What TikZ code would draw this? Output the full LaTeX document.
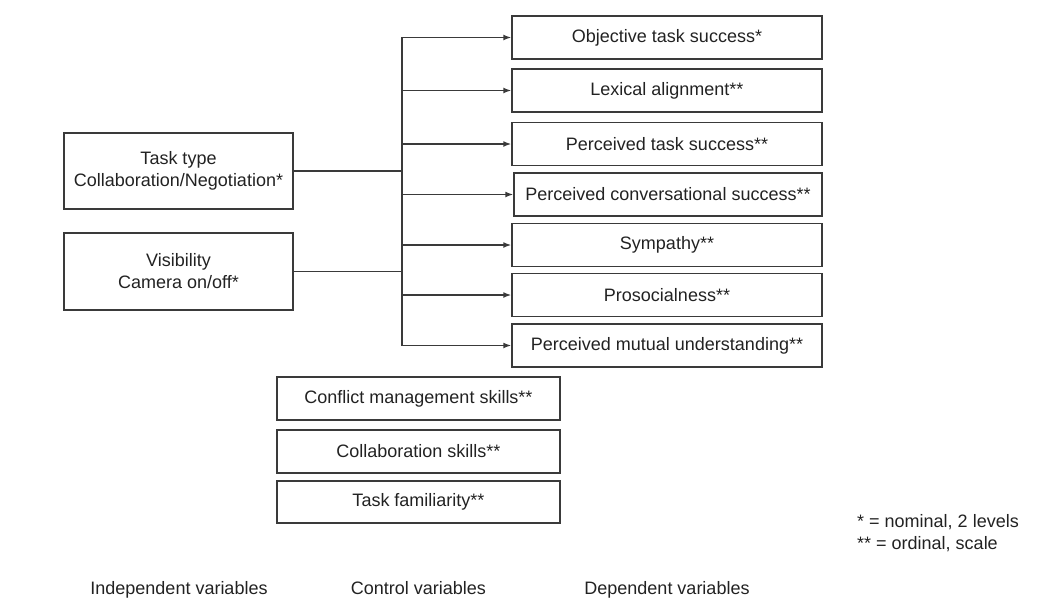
\documentclass[tikz,border=0pt]{standalone}
\usepackage{fontspec}
\setmainfont{Liberation Sans}
\usetikzlibrary{arrows.meta}
\definecolor{txt}{HTML}{222222}
\definecolor{ln}{HTML}{3A3A3A}
\begin{document}
\begin{tikzpicture}[x=1pt,y=-1pt,
  every node/.style={text=txt,font=\fontsize{18}{22}\selectfont},
  box/.style={draw=ln,line width=1.5pt,rectangle,inner sep=0pt,align=center},
  indep/.style={box,minimum width=229pt,minimum height=76pt},
  dep/.style={box,minimum width=310pt,minimum height=43pt},
  ctrl/.style={box,minimum width=283pt,minimum height=43pt},
  conn/.style={draw=ln,line width=1.5pt},
  arr/.style={conn,-{Latex[length=8pt,width=6pt]}},
  lbl/.style={inner sep=0pt,anchor=mid}]
\path[use as bounding box] (0,0) rectangle (1046,610);
% independent
\node[indep] (task) at (178.5,171) {Task type\\Collaboration/Negotiation*};
\node[indep,minimum height=77pt] (vis) at (178.5,271.5) {Visibility\\Camera on/off*};
% dependent
\node[dep] (d1) at (667,37.5) {Objective task success*};
\node[dep] (d2) at (667,90.5) {Lexical alignment**};
\node[dep] (d3) at (667,144) {Perceived task success**};
\node[dep,minimum width=308pt] (d4) at (668,194.5) {Perceived conversational success**};
\node[dep] (d5) at (667,245) {Sympathy**};
\node[dep] (d6) at (667,295) {Prosocialness**};
\node[dep] (d7) at (667,345.5) {Perceived mutual understanding**};
% control
\node[ctrl] (c1) at (418.5,398.5) {Conflict management skills**};
\node[ctrl] (c2) at (418.5,451.5) {Collaboration skills**};
\node[ctrl,minimum height=42pt] (c3) at (418.5,502) {Task familiarity**};
% bus
\coordinate (bus) at (402,0);
\draw[conn] (bus |- d1.west) -- (bus |- d7.west);
\draw[conn] (task.east) -- (task.east -| bus);
\draw[conn] (vis.east) -- (vis.east -| bus);
\foreach \d in {d1,d2,d3,d4,d5,d6,d7}
  \draw[arr] (bus |- \d.west) -- (\d.west);
% legend
\node[lbl,anchor=mid west] (l1) at (857,525) {* = nominal, 2 levels};
\node[lbl,anchor=mid west] (l2) at (857,547) {** = ordinal, scale};
% bottom labels
\node[lbl] (li) at (179,592) {Independent variables};
\node[lbl] (lc) at (418.5,592) {Control variables};
\node[lbl] (ld) at (667,592) {Dependent variables};
\end{tikzpicture}
\end{document}
